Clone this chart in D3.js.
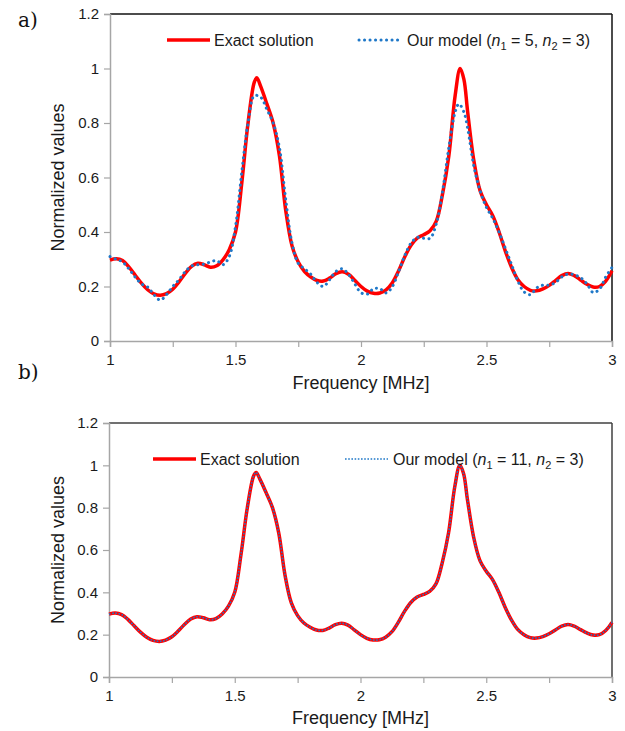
<!DOCTYPE html>
<html>
<head>
<meta charset="utf-8">
<script src="https://cdn.jsdelivr.net/npm/d3@7"></script>
<style>
  body { margin: 0; background: #fff; }
  text { font-family: "Liberation Sans", Arial, sans-serif; }
</style>
</head>
<body>
<div id="chart"></div>
<script>
// values
var exactFreq = [1.000,1.025,1.050,1.075,1.100,1.125,1.150,1.175,1.200,1.225,1.250,1.275,1.300,1.325,1.350,1.375,1.400,1.425,1.450,1.475,
  1.500,1.525,1.550,1.575,1.585,1.600,1.625,1.650,1.675,1.700,1.725,1.750,1.775,1.800,1.825,1.850,1.875,1.900,1.925,1.950,1.975,
  2.000,2.025,2.050,2.075,2.100,2.125,2.150,2.175,2.200,2.225,2.250,2.275,2.300,2.325,2.350,2.375,2.395,2.410,2.425,2.450,2.475,
  2.500,2.525,2.550,2.575,2.600,2.625,2.650,2.675,2.700,2.725,2.750,2.775,2.800,2.825,2.850,2.875,2.900,2.925,2.950,2.975,3.000];
var exactValues = [0.297,0.302,0.295,0.272,0.242,0.212,0.188,0.173,0.168,0.174,0.190,0.217,0.248,0.274,0.285,0.280,0.271,0.276,0.298,0.335,
  0.400,0.580,0.800,0.950,0.966,0.935,0.870,0.800,0.680,0.480,0.350,0.290,0.255,0.235,0.222,0.220,0.231,0.247,0.254,0.245,0.223,
  0.200,0.183,0.175,0.176,0.188,0.214,0.258,0.310,0.352,0.378,0.390,0.405,0.440,0.540,0.680,0.900,1.000,0.960,0.840,0.660,0.550,
  0.500,0.460,0.400,0.330,0.270,0.225,0.200,0.186,0.184,0.191,0.204,0.222,0.240,0.248,0.240,0.224,0.208,0.198,0.200,0.220,0.258];

var modelAFreq = [1.000,1.025,1.050,1.075,1.100,1.125,1.150,1.175,1.200,1.225,1.250,1.275,1.300,1.325,1.350,1.375,1.400,1.425,1.450,1.475,
  1.500,1.525,1.550,1.575,1.600,1.625,1.650,1.675,1.700,1.725,1.750,1.775,1.800,1.825,1.850,1.875,1.900,1.925,1.950,1.975,
  2.000,2.025,2.050,2.075,2.100,2.125,2.150,2.175,2.200,2.225,2.250,2.275,2.300,2.325,2.350,2.375,2.390,2.410,2.425,2.450,2.475,
  2.500,2.525,2.550,2.575,2.600,2.625,2.650,2.675,2.700,2.725,2.750,2.775,2.800,2.825,2.850,2.875,2.900,2.925,2.950,2.975,3.000];
var modelAValues = [0.310,0.300,0.290,0.265,0.235,0.210,0.198,0.170,0.150,0.170,0.200,0.225,0.255,0.275,0.280,0.282,0.290,0.295,0.280,0.310,
  0.420,0.620,0.800,0.900,0.895,0.850,0.800,0.710,0.520,0.360,0.285,0.265,0.245,0.215,0.200,0.225,0.255,0.265,0.245,0.210,
  0.177,0.172,0.192,0.192,0.176,0.200,0.255,0.315,0.360,0.380,0.377,0.377,0.430,0.550,0.710,0.840,0.870,0.840,0.780,0.640,0.550,
  0.490,0.450,0.400,0.340,0.280,0.220,0.180,0.170,0.195,0.205,0.205,0.215,0.235,0.246,0.243,0.232,0.210,0.178,0.190,0.235,0.270];

// in panel b) the model lies right on top of the exact curve
var modelBFreq = exactFreq;
var modelBValues = exactValues;

var yTicks = [0, 0.2, 0.4, 0.6, 0.8, 1, 1.2];
var xTicks = [1, 1.25, 1.5, 1.75, 2, 2.25, 2.5, 2.75, 3];
var xLabels = [1, 1.5, 2, 2.5, 3];

var svg = d3.select("#chart").append("svg")
    .attr("width", 625)
    .attr("height", 731);

function zip(xs, ys) {
    return xs.map(function (x, i) { return { f: x, v: ys[i] }; });
}

function drawPanel(p) {
    var x = d3.scaleLinear().domain([1, 3]).range([p.left, p.right]);
    var y = d3.scaleLinear().domain([0, 1.2]).range([p.bottom, p.top]);
    var g = svg.append("g");

    // frame: top and right are dark, axes are gray
    g.append("line").attr("x1", p.left).attr("x2", p.right).attr("y1", p.top).attr("y2", p.top)
        .attr("stroke", p.frame).attr("stroke-width", 1.5);
    g.append("line").attr("x1", p.right).attr("x2", p.right).attr("y1", p.top).attr("y2", p.bottom)
        .attr("stroke", p.frame).attr("stroke-width", 1.5);

    var yAxis = g.append("g")
        .attr("transform", "translate(" + p.left + ",0)")
        .call(d3.axisLeft(y).tickValues(yTicks).tickSize(6).tickPadding(5)
            .tickFormat(function (d) { return d3.format("")(d); }));
    var xAxis = g.append("g")
        .attr("transform", "translate(0," + p.bottom + ")")
        .call(d3.axisBottom(x).tickValues(xTicks).tickSize(6).tickPadding(4)
            .tickFormat(function (d) { return xLabels.indexOf(d) >= 0 ? d : ""; }));
    [yAxis, xAxis].forEach(function (a) {
        a.select(".domain").attr("stroke", "#a6a6a6").attr("stroke-width", 1.5);
        a.selectAll(".tick line").attr("stroke", "#a6a6a6").attr("stroke-width", 1.2);
        a.selectAll(".tick text").attr("fill", "#1a1a1a")
            .style("font-family", "'Liberation Sans', Arial, sans-serif").style("font-size", "15px");
    });
    xAxis.selectAll(".tick text").attr("dy", "0.9em");

    // axis titles
    g.append("text")
        .attr("transform", "translate(" + p.yTitleX + "," + ((p.top + p.bottom) / 2) + ") rotate(-90)")
        .attr("text-anchor", "middle").attr("dominant-baseline", "central")
        .attr("fill", "#1a1a1a").style("font-size", "18px")
        .text("Normalized values");
    g.append("text")
        .attr("x", (p.left + p.right) / 2).attr("y", p.xTitleY)
        .attr("text-anchor", "middle").attr("dominant-baseline", "central")
        .attr("fill", "#1a1a1a").style("font-size", "18px")
        .text("Frequency [MHz]");

    // panel letter
    g.append("text")
        .attr("x", 18).attr("y", p.letterY)
        .attr("dominant-baseline", "central")
        .style("font-family", "'DejaVu Serif', 'Liberation Serif', serif").style("font-size", "20px")
        .attr("fill", "#111")
        .text(p.letter);

    var line = d3.line()
        .x(function (d) { return x(d.f); })
        .y(function (d) { return y(d.v); })
        .curve(d3.curveCatmullRom.alpha(0.5));

    g.append("path")
        .datum(zip(exactFreq, exactValues))
        .attr("fill", "none")
        .attr("stroke", "#ff0000")
        .attr("stroke-width", 3.5)
        .attr("stroke-linejoin", "round")
        .attr("d", line);

    g.append("path")
        .datum(zip(p.modelFreq, p.modelValues))
        .attr("fill", "none")
        .attr("stroke", "#1f78c8")
        .attr("stroke-width", p.dotWidth)
        .attr("stroke-linecap", p.dotCap)
        .attr("stroke-dasharray", p.dash)
        .attr("d", line);

    // legend
    var ly = p.legendY;
    g.append("line").attr("x1", p.leg1).attr("x2", p.leg1 + 43).attr("y1", ly).attr("y2", ly)
        .attr("stroke", "#ff0000").attr("stroke-width", 3.5);
    g.append("text").attr("x", p.leg1 + 47).attr("y", ly).attr("dominant-baseline", "central")
        .attr("fill", "#1a1a1a").style("font-size", "16px").text("Exact solution");

    g.append("line").attr("x1", p.leg2).attr("x2", p.leg2 + 43).attr("y1", ly).attr("y2", ly)
        .attr("stroke", "#1f78c8").attr("stroke-width", p.dotWidth)
        .attr("stroke-linecap", p.dotCap).attr("stroke-dasharray", p.dash);
    var t = g.append("text").attr("x", p.leg2 + 48).attr("y", ly + 5.5)
        .attr("fill", "#1a1a1a").style("font-size", "16px");
    t.append("tspan").text("Our model (");
    t.append("tspan").style("font-style", "italic").text("n");
    t.append("tspan").attr("dy", 4).style("font-size", "11px").text("1");
    t.append("tspan").attr("dy", -4).text(" = " + p.n1 + ", ");
    t.append("tspan").style("font-style", "italic").text("n");
    t.append("tspan").attr("dy", 4).style("font-size", "11px").text("2");
    t.append("tspan").attr("dy", -4).text(" = 3)");
}

drawPanel({
    left: 110, right: 612, top: 14, bottom: 341,
    frame: "#111", yTitleX: 58, xTitleY: 383, letter: "a)", letterY: 20,
    modelFreq: modelAFreq, modelValues: modelAValues,
    dotWidth: 3, dotCap: "round", dash: "0.1 5.4",
    legendY: 40, leg1: 167, leg2: 359, n1: 5
});

drawPanel({
    left: 109, right: 612, top: 423, bottom: 677,
    frame: "#404040", yTitleX: 58, xTitleY: 718, letter: "b)", letterY: 372,
    modelFreq: modelBFreq, modelValues: modelBValues,
    dotWidth: 1.6, dotCap: "butt", dash: "1.6 1.6",
    legendY: 459, leg1: 153, leg2: 345, n1: 11
});
</script>
</body>
</html>
